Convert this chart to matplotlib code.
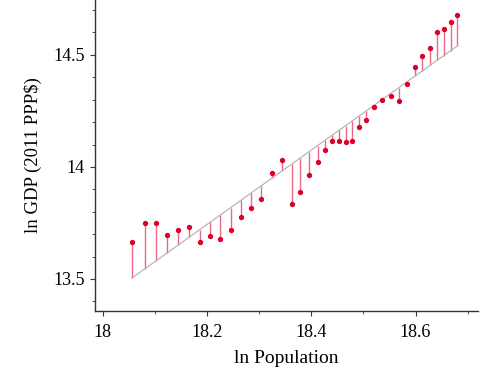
#!/bin/env python3
'''
ln GDP vs ln Population with fitted line and residual stems
'''

import numpy as np
import matplotlib.pyplot as plt
from matplotlib.ticker import MultipleLocator

plt.rcParams['font.family'] = ['Liberation Serif', 'DejaVu Serif']

ln_pop = [18.056, 18.080, 18.102, 18.124, 18.145, 18.165, 18.186, 18.206,
          18.225, 18.245, 18.265, 18.285, 18.304, 18.324, 18.344, 18.362,
          18.379, 18.396, 18.412, 18.426, 18.440, 18.454, 18.466, 18.478,
          18.491, 18.505, 18.520, 18.536, 18.552, 18.568, 18.584, 18.599,
          18.613, 18.628, 18.641, 18.654, 18.667, 18.680]
ln_gdp = [13.665, 13.751, 13.749, 13.696, 13.717, 13.731, 13.665, 13.692,
          13.677, 13.717, 13.775, 13.815, 13.857, 13.973, 14.031, 13.835,
          13.887, 13.966, 14.022, 14.074, 14.117, 14.117, 14.110, 14.116,
          14.180, 14.210, 14.268, 14.300, 14.316, 14.293, 14.371, 14.445,
          14.497, 14.530, 14.600, 14.617, 14.646, 14.679]

x = np.array(ln_pop)
y = np.array(ln_gdp)
slope, intercept = np.polyfit(x, y, 1)
fitted = intercept + slope * x

fig = plt.figure(figsize=(4.96, 3.72), dpi=100)
ax = fig.add_axes([0.1915, 0.164, 0.7725, 0.836])

ax.vlines(x, fitted, y, color='#ee5577', lw=1.0, alpha=0.9)
ax.plot(x, fitted, color='#b0b0b0', lw=0.8)
ax.scatter(x, y, s=8, color='#e0002a', zorder=3)

ax.set_xlim(17.985, 18.72)
ax.set_ylim(13.357, 14.745)
ax.xaxis.set_minor_locator(MultipleLocator(0.1))
ax.yaxis.set_minor_locator(MultipleLocator(0.1))
ax.set_xticks([18, 18.2, 18.4, 18.6])
ax.set_xticklabels(['18', '18.2', '18.4', '18.6'])
ax.set_yticks([13.5, 14, 14.5])
ax.set_yticklabels(['13.5', '14', '14.5'])

for s in ['top', 'right']:
    ax.spines[s].set_visible(False)
for s in ['left', 'bottom']:
    ax.spines[s].set_color('#333333')
    ax.spines[s].set_linewidth(1.0)
ax.tick_params(which='both', direction='out', color='#333333', labelsize=13, pad=4)
ax.tick_params(axis='x', which='major', pad=6)
ax.tick_params(which='major', length=3.5)
ax.tick_params(which='minor', length=2.5)

ax.set_xlabel('ln Population', fontsize=14, labelpad=6)
ax.set_ylabel('ln GDP (2011 PPP$)', fontsize=13.5, labelpad=8)

fig.savefig('out.png', dpi=100)
